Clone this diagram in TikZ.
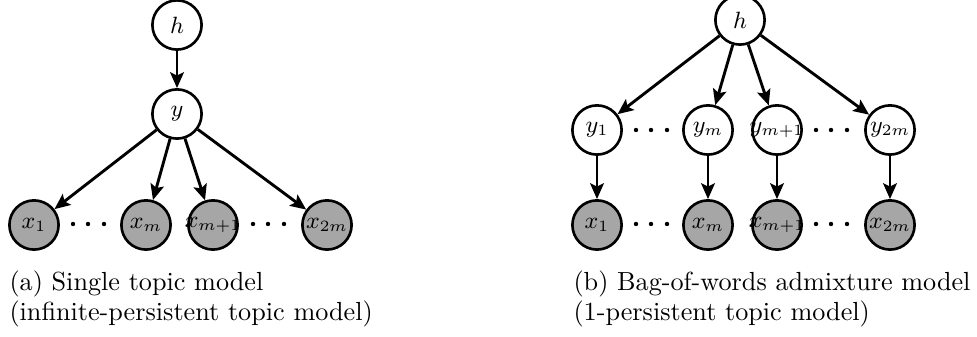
\documentclass[tikz,border=0pt]{standalone}
\usetikzlibrary{arrows.meta}
\definecolor{obsgray}{RGB}{166,166,166}
\begin{document}
\begin{tikzpicture}[x=0.382pt,y=-0.382pt,
  latent/.style={circle,draw,line width=1pt,fill=white,minimum size=18.8pt,inner sep=0pt,font=\small},
  observed/.style={latent,fill=obsgray},
  edge/.style={line width=1.1pt,-{Stealth[length=6pt,width=5.2pt,inset=1.2pt]}},
  caption/.style={anchor=base west,inner sep=0pt}]
\useasboundingbox (0,0) rectangle (977,337);
\newcommand{\lbl}[1]{\makebox[0pt]{$#1$}}
% ---------- (a) ----------
\node[latent] (ha) at (177,25) {\lbl{h}};
\node[latent] (ya) at (177,114) {\lbl{y}};
\node[observed] (xa1) at (34,225) {\lbl{x_1}};
\node[observed] (xam) at (146,225) {\lbl{x_m}};
\node[observed] (xam1) at (213,225) {\lbl{x_{m+1}}};
\node[observed] (xa2m) at (327,225) {\lbl{x_{2m}}};
\draw[edge] (ha) -- (ya);
\draw[edge] (ya) -- (xa1);
\draw[edge] (ya) -- (xam);
\draw[edge] (ya) -- (xam1);
\draw[edge] (ya) -- (xa2m);
\foreach \x in {73,88,104,253,268,284} \fill (\x,224) circle (2.2);
\node[caption] (capa1) at (9,291) {(a) Single topic model};
\node[caption] (capa2) at (9,321) {(infinite-persistent topic model)};
% ---------- (b) ----------
\node[latent] (hb) at (740,20) {\lbl{h}};
\node[latent] (yb1) at (597,130) {\lbl{y_1}};
\node[latent] (ybm) at (708,130) {\lbl{y_m}};
\node[latent] (ybm1) at (777,130) {\lbl{y_{m+1}}};
\node[latent] (yb2m) at (890,130) {\lbl{y_{2m}}};
\node[observed] (xb1) at (597,225) {\lbl{x_1}};
\node[observed] (xbm) at (708,225) {\lbl{x_m}};
\node[observed] (xbm1) at (777,225) {\lbl{x_{m+1}}};
\node[observed] (xb2m) at (890,225) {\lbl{x_{2m}}};
\draw[edge] (hb) -- (yb1);
\draw[edge] (hb) -- (ybm);
\draw[edge] (hb) -- (ybm1);
\draw[edge] (hb) -- (yb2m);
\draw[edge] (yb1) -- (xb1);
\draw[edge] (ybm) -- (xbm);
\draw[edge] (ybm1) -- (xbm1);
\draw[edge] (yb2m) -- (xb2m);
\foreach \x in {636,651,667,816,831,847} {
  \fill (\x,130) circle (2.2);
  \fill (\x,224) circle (2.2);
}
\node[caption] (capb1) at (573,291) {(b) Bag-of-words admixture model};
\node[caption] (capb2) at (573,321) {(1-persistent topic model)};
\end{tikzpicture}
\end{document}
